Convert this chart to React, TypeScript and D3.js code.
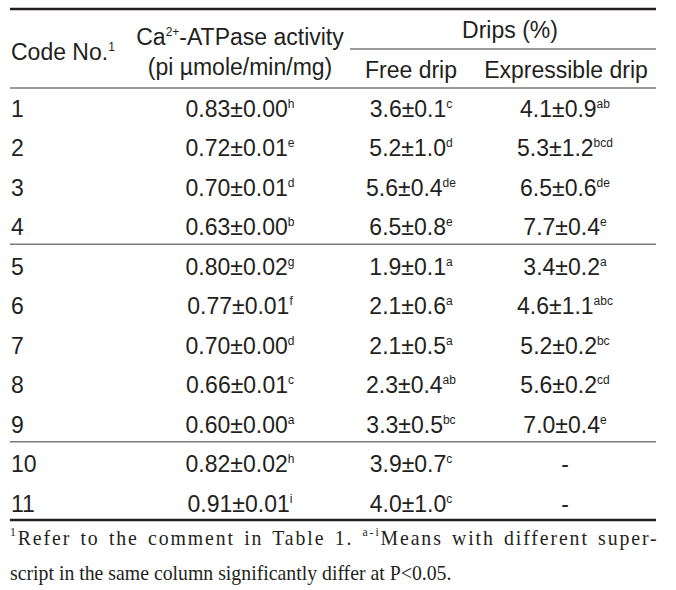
import React, { useEffect, useRef } from "react";
import * as d3 from "d3";

const codes = ["1", "2", "3", "4", "5", "6", "7", "8", "9", "10", "11"];
const caValues = ["0.83±0.00", "0.72±0.01", "0.70±0.01", "0.63±0.00", "0.80±0.02", "0.77±0.01", "0.70±0.00", "0.66±0.01", "0.60±0.00", "0.82±0.02", "0.91±0.01"];
const caSup = ["h", "e", "d", "b", "g", "f", "d", "c", "a", "h", "i"];
const freeValues = ["3.6±0.1", "5.2±1.0", "5.6±0.4", "6.5±0.8", "1.9±0.1", "2.1±0.6", "2.1±0.5", "2.3±0.4", "3.3±0.5", "3.9±0.7", "4.0±1.0"];
const freeSup = ["c", "d", "de", "e", "a", "a", "a", "ab", "bc", "c", "c"];
const exprValues = ["4.1±0.9", "5.3±1.2", "6.5±0.6", "7.7±0.4", "3.4±0.2", "4.6±1.1", "5.2±0.2", "5.6±0.2", "7.0±0.4", "-", "-"];
const exprSup = ["ab", "bcd", "de", "e", "a", "abc", "bc", "cd", "e", "", ""];
const groupEnds = [3, 8]; // separator after these row indices
const columns = ["code", "ca", "free", "expr"];

const W = 676;
const H = 590;
const SANS = "'Liberation Sans', Arial, Helvetica, sans-serif";
const SERIF = "'Liberation Serif', 'Times New Roman', serif";
const INK = "#231f20";
const RULE = "#7a7a7a";

const rowY = d3.scaleLinear().domain([0, 10]).range([116.5, 511.5]);
const colX = d3.scaleOrdinal<string, number>().domain(columns).range([11, 240, 411, 565]);
const left = 10;
const right = 656;
const dripsLeft = 350;
const FOOT_SX = 0.9;

function Sup({ text }: { text: string }) {
  if (!text) return null;
  return (
    <tspan fontSize={12} dy={-9}>
      {text}
    </tspan>
  );
}

function Cell({ x, y, value, sup, anchor = "middle" }: { x: number; y: number; value: string; sup?: string; anchor?: string }) {
  return (
    <text x={x} y={y} fontFamily={SANS} fontSize={23} fill={INK} textAnchor={anchor as any}>
      {value}
      {sup ? <Sup text={sup} /> : null}
    </text>
  );
}

function Footnote() {
  const ref = useRef<SVGTextElement>(null);
  useEffect(() => {
    const el = ref.current;
    if (!el) return;
    el.style.wordSpacing = "0px";
    const natural = el.getComputedTextLength();
    const target = (right - left) / FOOT_SX;
    const gaps = 9;
    const ws = (target - natural) / gaps;
    el.style.wordSpacing = `${ws}px`;
  }, []);
  return (
    <g fontFamily={SERIF} fontSize={22} fill={INK} transform={`translate(${left},0) scale(${FOOT_SX},1)`}>
      <text ref={ref} x={0} y={545} style={{ letterSpacing: "2.1px" }}>
        <tspan fontSize={13} dy={-9}>1</tspan>
        <tspan dy={9}>Refer to the comment in Table 1. </tspan>
        <tspan fontSize={13} dy={-9}>a-i</tspan>
        <tspan dy={9}>Means with different super-</tspan>
      </text>
      <text x={0} y={580}>script in the same column significantly differ at P&lt;0.05.</text>
    </g>
  );
}

export default function App() {
  const sepYs = groupEnds.map((i) => (rowY(i) + rowY(i + 1)) / 2 - 10.5);
  return (
    <svg width={W} height={H} style={{ position: "absolute", left: 0, top: 0, background: "#fff" }}>
      {/* rules */}
      <line x1={left} x2={right} y1={9} y2={9} stroke={INK} strokeWidth={2.6} />
      <line x1={dripsLeft} x2={right} y1={49} y2={49} stroke={RULE} strokeWidth={1.5} />
      <line x1={left} x2={right} y1={88} y2={88} stroke={RULE} strokeWidth={1.5} />
      {sepYs.map((y, i) => (
        <line key={i} x1={left} x2={right} y1={y} y2={y} stroke={RULE} strokeWidth={1.5} />
      ))}
      <line x1={left} x2={right} y1={520} y2={520} stroke={INK} strokeWidth={2.6} />

      {/* header */}
      <g fontFamily={SANS} fontSize={23} fill={INK}>
        <text x={colX("code")} y={60}>
          Code No.<tspan fontSize={12} dy={-9}>1</tspan>
        </text>
        <text x={colX("ca")} y={45} textAnchor="middle">
          Ca<tspan fontSize={12} dy={-9}>2+</tspan>
          <tspan dy={9}>-ATPase activity</tspan>
        </text>
        <text x={colX("ca")} y={75} textAnchor="middle">(pi µmole/min/mg)</text>
        <text x={(colX("free") + colX("expr")) / 2 + 22} y={38} textAnchor="middle">Drips (%)</text>
        <text x={colX("free")} y={78} textAnchor="middle">Free drip</text>
        <text x={colX("expr") + 1} y={78} textAnchor="middle">Expressible drip</text>
      </g>

      {/* body */}
      {codes.map((c, i) => (
        <g key={c}>
          <Cell x={colX("code")} y={rowY(i)} value={c} anchor="start" />
          <Cell x={colX("ca")} y={rowY(i)} value={caValues[i]} sup={caSup[i]} />
          <Cell x={colX("free")} y={rowY(i)} value={freeValues[i]} sup={freeSup[i]} />
          <Cell x={colX("expr")} y={rowY(i)} value={exprValues[i]} sup={exprSup[i]} />
        </g>
      ))}

      <Footnote />
    </svg>
  );
}
